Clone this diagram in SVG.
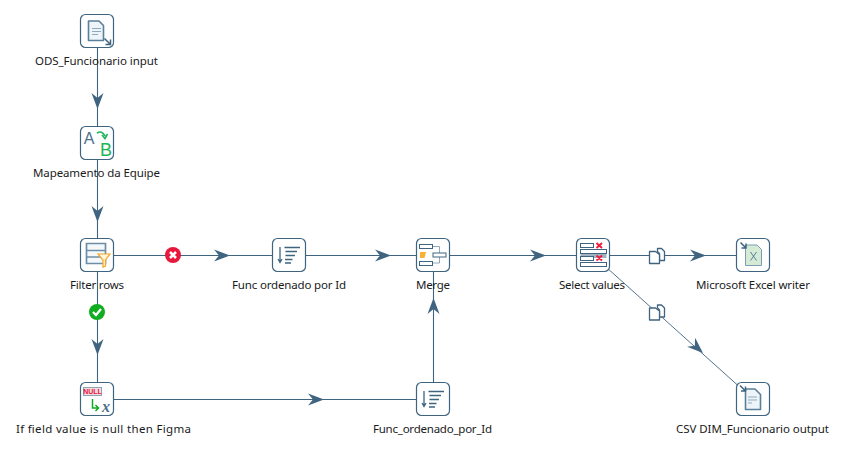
<svg xmlns="http://www.w3.org/2000/svg" width="858" height="457" viewBox="0 0 858 457">
<style>
text{font-family:"Noto Sans","Open Sans","Liberation Sans",sans-serif;font-size:11.5px;fill:#1a1a1a;text-anchor:middle}
.box{fill:#fff;stroke:#3f6480;stroke-width:1.2}
.ln{fill:none;stroke:#3f6480;stroke-width:1.1}
.thin{fill:none;stroke:#3f6480;stroke-width:.9}
.ah{fill:#3f6480}
.doc{fill:#eef5fa;stroke:#5a7f9a;stroke-width:1.6;stroke-linejoin:round}
.bar{fill:none;stroke:#8fa9bd;stroke-width:1}
.g{fill:none;stroke:#1fb45a;stroke-width:1.6}
.r{fill:none;stroke:#ee1c3c;stroke-width:1.9}
.mk{fill:#fff;stroke:#3f6480;stroke-width:1.3;stroke-linejoin:round}
.sl{fill:#fff;stroke:#3f6480;stroke-width:1}
.ic{font-family:"Liberation Sans",sans-serif}
.so{fill:none;stroke:#3f6480;stroke-width:1.300}
.ar2{fill:none;stroke:#3f6480;stroke-width:1.500}
</style>
<defs>
<path id="ar" class="ah" d="M0 0L-16 -6L-11 0L-16 6Z"/>
<g id="sort"><path d="M-9 -8V7M-11 4L-9 7.500L-7 4" class="so"/><path d="M-4.500 -7.500H11M-3.500 -3.500H8M-3.500 .5H6M-4 4.500H3.500M-4 8H2" class="so"/></g>
<g id="copy"><path class="mk" d="M1 -7H5L8 -4V5H3V-2L1 -4Z"/><path class="mk" d="M-7 -4H-1L3 -1V8H-7Z"/></g>
</defs>
<g id="connectors">
<path class="ln" d="M97.500 47V126M97.500 159V238M97.500 271V382M113 255.500H272M305 255.500H416M449 255.500H576M609 255.500H736M113 399.500H416M433.500 382V271"/>
<path class="thin" d="M606 267L743 390"/>
<use href="#ar" transform="translate(97.500 109) rotate(90)"/>
<use href="#ar" transform="translate(97.500 222) rotate(90)"/>
<use href="#ar" transform="translate(97.500 355) rotate(90)"/>
<use href="#ar" transform="translate(230 255.500)"/>
<use href="#ar" transform="translate(391 255.500)"/>
<use href="#ar" transform="translate(546 255.500)"/>
<use href="#ar" transform="translate(706 255.500)"/>
<use href="#ar" transform="translate(324 399.500)"/>
<use href="#ar" transform="translate(433.500 298) rotate(-90)"/>
<use href="#ar" transform="translate(703 353) rotate(42)"/>
<g id="badge-error"><circle cx="173" cy="255" r="8" fill="#e8173c"/><path d="M170 252L176 258M176 252L170 258" stroke="#fff" stroke-width="2.600" fill="none"/></g>
<g id="badge-ok"><circle cx="97" cy="312" r="8" fill="#10ad22"/><path d="M93 312L96 315L101 309" stroke="#fff" stroke-width="2.200" fill="none"/></g>
<use href="#copy" transform="translate(656.500 255.500)"/>
<use href="#copy" transform="translate(656.500 312)"/>
</g>
<g id="node-ods">
<rect class="box" x="80.500" y="14.500" width="33" height="33" rx="5"/>
<path class="doc" d="M88.500 21H99L103.500 25.500V40.500H88.500Z"/><path class="bar" d="M92 28.500H101M92 31.500H101M92 34.500H98"/>
<path d="M104.500 38.500L110.500 44.500M110.500 39.500V44.500H105.500" class="ar2"/>
<text x="96.500" y="65" textLength="123">ODS_Funcionario input</text>
</g>
<g id="node-map">
<rect class="box" x="80.500" y="126.500" width="33" height="33" rx="5"/>
<text class="ic" x="89" y="144" style="font-size:16px;fill:#4c6f8a">A</text>
<text class="ic" x="106" y="155.500" style="font-size:18px;fill:#1fb45a">B</text>
<path class="g" d="M97 133Q102 130 105 136M102 135L105 138.500L107.500 134"/>
<text x="96.500" y="177" textLength="127">Mapeamento da Equipe</text>
</g>
<g id="node-filter">
<rect class="box" x="80.500" y="238.500" width="33" height="33" rx="5"/>
<path d="M86.500 243.500H105.500V263.500H86.500ZM86.500 250.500H105.500M86.500 257H105.500" fill="#f4f8fb" stroke="#6d8ea6" stroke-width="1.700"/>
<path d="M98 254H110L105.500 260V266L103 267V260Z" fill="#fff6df" stroke="#f5a623" stroke-width="1.200"/>
<text x="97" y="289" textLength="54">Filter rows</text>
</g>
<g id="node-null">
<rect class="box" x="80.500" y="382.500" width="33" height="33" rx="5"/>
<rect x="83.500" y="387.500" width="18" height="8" fill="#f4dbe0" stroke="#8fa3b5"/>
<text class="ic" x="92.500" y="394" style="font-size:7px;font-weight:700;fill:#e8173c">NULL</text>
<path d="M92.500 399V408H98M95.500 405L98.500 408L95.500 411" fill="none" stroke="#10ad22" stroke-width="1.500"/>
<text x="106" y="411.500" style="font-family:'Liberation Serif',serif;font-size:16px;font-style:italic;font-weight:700;fill:#4c6f8a">x</text>
<text x="103.500" y="433" textLength="175">If field value is null then Figma</text>
</g>
<g id="node-func1">
<rect class="box" x="272.500" y="238.500" width="33" height="33" rx="5"/>
<use href="#sort" transform="translate(289 255)"/>
<text x="289" y="289" textLength="114">Func ordenado por Id</text>
</g>
<g id="node-merge">
<rect class="box" x="416.500" y="238.500" width="33" height="33" rx="5"/>
<path d="M433 246.500H439.500V263H433" class="bar"/>
<rect x="419.500" y="244.500" width="13" height="4" class="sl"/>
<rect x="419.500" y="261.500" width="13" height="4" class="sl"/>
<rect x="433" y="253" width="13" height="4" class="sl"/>
<path d="M420 252H426L424.500 258H420Z" fill="#f8b133"/>
<text x="433" y="289" textLength="34">Merge</text>
</g>
<g id="node-select">
<rect class="box" x="576.500" y="238.500" width="33" height="33" rx="5"/>
<rect x="580.500" y="253" width="26" height="5" fill="#9db3c4"/>
<rect x="580.500" y="243.500" width="13" height="4" class="sl"/>
<rect x="580.500" y="249.500" width="26" height="4" class="sl"/>
<rect x="580.500" y="256.500" width="13" height="4" class="sl"/>
<rect x="580.500" y="262.500" width="26" height="4" class="sl"/>
<path class="r" d="M596.500 243L602 248M602 243L596.500 248M596.500 255.500L602 260.500M602 255.500L596.500 260.500"/>
<text x="592" y="289" textLength="66">Select values</text>
</g>
<g id="node-excel">
<rect class="box" x="736.500" y="238.500" width="33" height="33" rx="5"/>
<path d="M745.500 245H757L761.500 249.500V265.500H745.500Z" fill="#d5ebd6" stroke="#7d9db2" stroke-width="1"/>
<path d="M750.500 252L756.500 260.500M756.500 252L750.500 260.500" stroke="#5a7f9a" fill="none"/>
<path d="M740.500 242.500L746 248M746 243.500V248H741.500" class="ar2"/>
<text x="753" y="289" textLength="114">Microsoft Excel writer</text>
</g>
<g id="node-func2">
<rect class="box" x="416.500" y="382.500" width="33" height="33" rx="5"/>
<use href="#sort" transform="translate(433 399)"/>
<text x="432.500" y="433" textLength="119">Func_ordenado_por_Id</text>
</g>
<g id="node-csv">
<rect class="box" x="736.500" y="382.500" width="33" height="33" rx="5"/>
<path class="doc" d="M745.500 389H755L760.500 394.500V409.500H745.500Z"/><path class="bar" d="M748 397H757M748 400H757M748 403H752"/>
<path d="M740 385.500L745.500 391M745.500 386.500V391H741" class="ar2"/>
<text x="752.500" y="433" textLength="153">CSV DIM_Funcionario output</text>
</g>
</svg>
